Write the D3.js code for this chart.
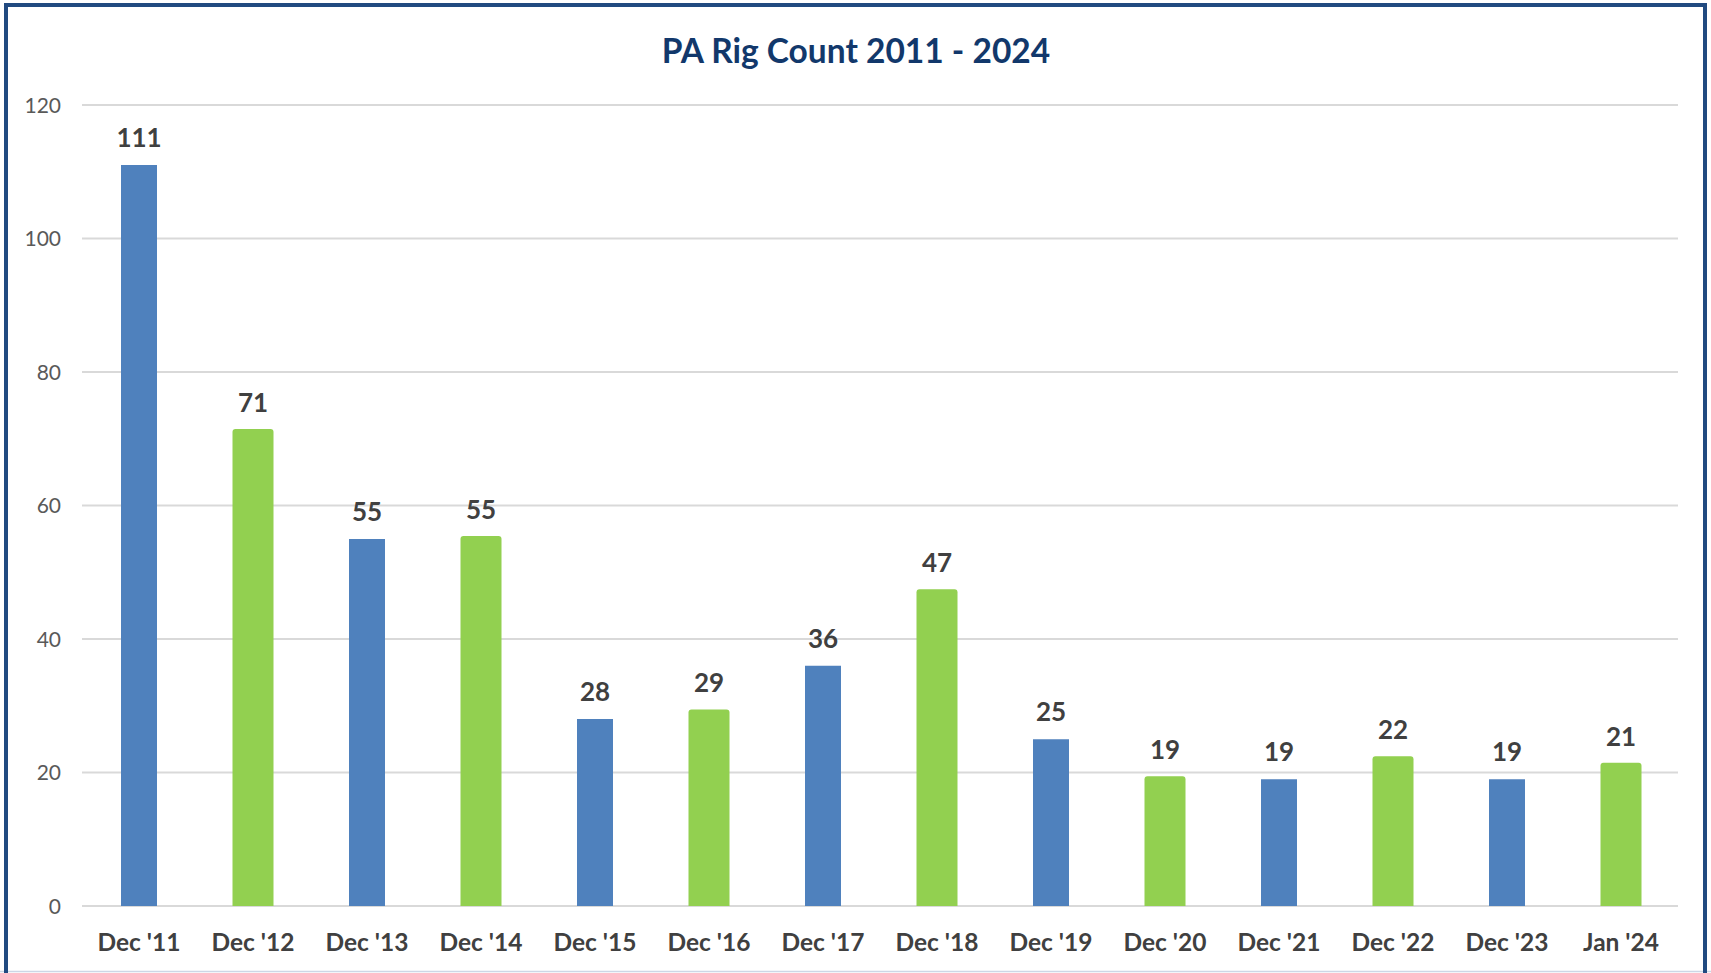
<!DOCTYPE html>
<html>
<head>
<meta charset="utf-8">
<script src="https://cdn.jsdelivr.net/npm/d3@7"></script>
<style>
  html, body { margin: 0; padding: 0; background: #fff; }
  svg { display: block; }
</style>
</head>
<body>
<div id="chart"></div>
<script>
// chart data
var categories = ["Dec '11", "Dec '12", "Dec '13", "Dec '14", "Dec '15", "Dec '16", "Dec '17",
                  "Dec '18", "Dec '19", "Dec '20", "Dec '21", "Dec '22", "Dec '23", "Jan '24"];
var rigCounts = [111, 71, 55, 55, 28, 29, 36, 47, 25, 19, 19, 22, 19, 21];
var yTicks = [0, 20, 40, 60, 80, 100, 120];
var chartTitle = "PA Rig Count 2011 - 2024";

var width = 1711, height = 973;
var FONT = "Lato, 'Open Sans', sans-serif";
var BLUE = '#4f81bd', GREEN = '#92d050';

var svg = d3.select('#chart').append('svg')
    .attr('width', width)
    .attr('height', height);

svg.append('rect')
    .attr('width', width).attr('height', height)
    .attr('fill', '#fff');

// plot area
var x = d3.scaleBand()
    .domain(categories)
    .range([82, 1678])
    .padding(0);

var y = d3.scaleLinear()
    .domain([0, 120])
    .range([906, 105]);

// gridlines
svg.append('g')
  .selectAll('line')
  .data(yTicks)
  .join('line')
    .attr('x1', x.range()[0])
    .attr('x2', x.range()[1])
    .attr('y1', d => y(d))
    .attr('y2', d => y(d))
    .attr('stroke', '#d9d9d9')
    .attr('stroke-width', 2.2);

// y axis labels
svg.append('g')
  .selectAll('text')
  .data(yTicks)
  .join('text')
    .attr('x', 61)
    .attr('y', d => y(d))
    .attr('dy', '0.36em')
    .attr('text-anchor', 'end')
    .attr('font-family', FONT)
    .attr('font-size', 21)
    .attr('fill', '#595959')
    .text(d => d);

// bars - blue ones are plain, green ones slightly wider with rounded top
function barPath(cx, top, bottom, w, r) {
    var x0 = cx - w / 2, x1 = cx + w / 2;
    var p = d3.path();
    p.moveTo(x0, bottom);
    p.lineTo(x0, top + r);
    p.quadraticCurveTo(x0, top, x0 + r, top);
    p.lineTo(x1 - r, top);
    p.quadraticCurveTo(x1, top, x1, top + r);
    p.lineTo(x1, bottom);
    p.closePath();
    return p.toString();
}

var bars = categories.map(function(c, i) {
    return { cat: c, value: rigCounts[i], green: i % 2 === 1 };
});

svg.append('g')
  .selectAll('path')
  .data(bars)
  .join('path')
    .attr('d', function(d) {
        var cx = x(d.cat) + x.bandwidth() / 2;
        if (d.green) return barPath(cx, y(d.value) - 3, y(0), 41, 3);
        return barPath(cx, y(d.value), y(0), 36, 0);
    })
    .attr('fill', d => d.green ? GREEN : BLUE);

// value labels
svg.append('g')
  .selectAll('text')
  .data(bars)
  .join('text')
    .attr('x', d => x(d.cat) + x.bandwidth() / 2)
    .attr('y', d => y(d.value) - (d.green ? 20 : 18))
    .attr('text-anchor', 'middle')
    .attr('font-family', FONT)
    .attr('font-weight', 'bold')
    .attr('font-size', 26)
    .attr('fill', '#404040')
    .text(d => d.value);

// category labels
svg.append('g')
  .selectAll('text')
  .data(categories)
  .join('text')
    .attr('x', d => x(d) + x.bandwidth() / 2)
    .attr('y', 951)
    .attr('text-anchor', 'middle')
    .attr('font-family', FONT)
    .attr('font-weight', 'bold')
    .attr('font-size', 24.5)
    .attr('fill', '#404040')
    .text(d => d);

// title
svg.append('text')
    .attr('x', 856)
    .attr('y', 63)
    .attr('text-anchor', 'middle')
    .attr('font-family', FONT)
    .attr('font-weight', 'bold')
    .attr('font-size', 33.5)
    .attr('fill', '#12386b')
    .text(chartTitle);

// frame
svg.append('line')
    .attr('x1', 0).attr('x2', width)
    .attr('y1', 971.5).attr('y2', 971.5)
    .attr('stroke', '#cdd7e6')
    .attr('stroke-width', 1.5);

svg.append('rect')
    .attr('x', 6).attr('y', 5)
    .attr('width', 1699).attr('height', 1000)
    .attr('fill', 'none')
    .attr('stroke', '#214a80')
    .attr('stroke-width', 4);
</script>
</body>
</html>
